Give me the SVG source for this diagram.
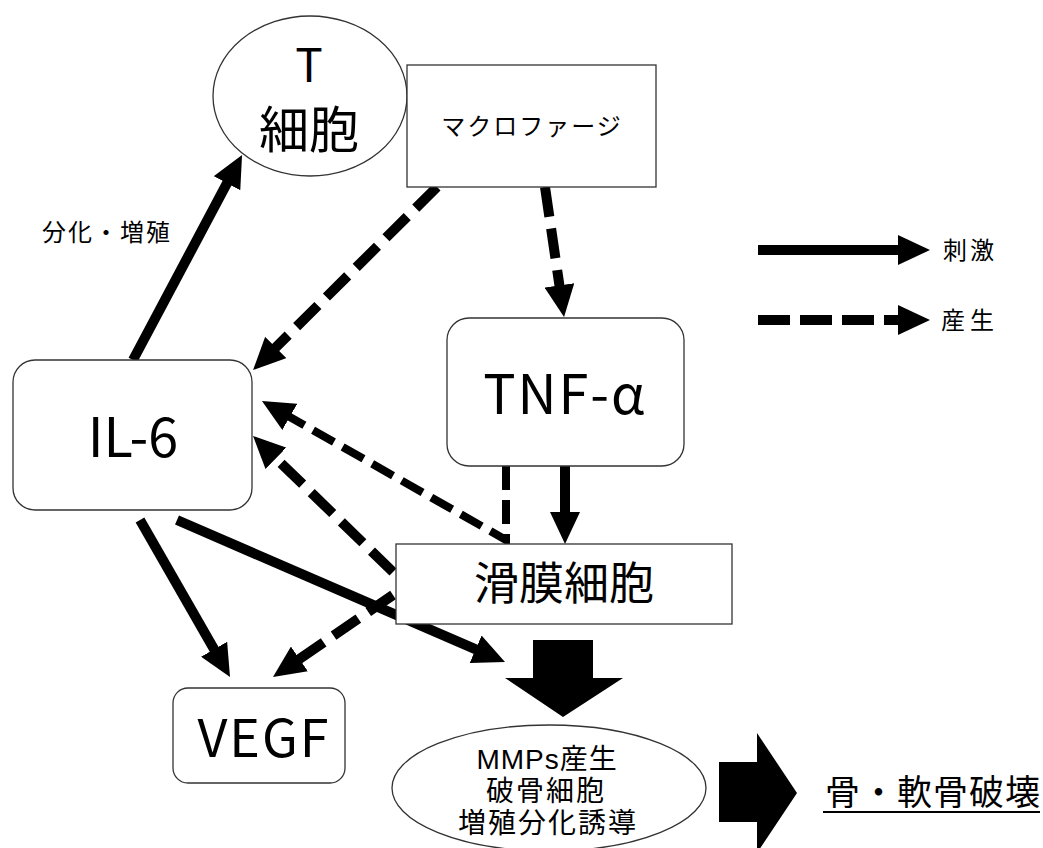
<svg xmlns="http://www.w3.org/2000/svg" width="1043" height="848" viewBox="0 0 1043 848">
  <defs>
    <style>
      .node { fill: #ffffff; stroke: #333333; stroke-width: 1.3; }
      .lbl { font-family: "Noto Sans CJK JP", "Liberation Sans", sans-serif; fill: #000000; text-anchor: middle; }
      .tight { font-family: "Liberation Sans", "Noto Sans CJK JP", sans-serif; }
      .start { text-anchor: start; }
      .solid { stroke: #000000; stroke-width: 10; fill: none; marker-end: url(#head); }
      .dash { stroke: #000000; stroke-width: 10; fill: none; stroke-dasharray: 30 12; marker-end: url(#head); }
      .dash-thin { stroke: #000000; stroke-width: 8; fill: none; stroke-dasharray: 24 10; marker-end: url(#head); }
      .block { fill: #000000; }
    </style>
    <marker id="head" viewBox="0 0 32 30" refX="4" refY="15" markerWidth="32" markerHeight="30" markerUnits="userSpaceOnUse" orient="auto">
      <path d="M0,0 L32,15 L0,30 Z" fill="#000000"/>
    </marker>
  </defs>

  <rect width="1043" height="848" fill="#ffffff"/>

  <!-- connectors -->
  <g id="connectors">
    <line class="solid" x1="133" y1="360" x2="228.9" y2="179.7"/>
    <line class="dash" x1="437" y1="187" x2="272.9" y2="350.3"/>
    <line class="dash" x1="545" y1="187" x2="560" y2="289.3"/>
    <polyline class="dash-thin" points="506,466 506,540 286.3,414.9"/>
    <line class="dash" x1="393" y1="572" x2="273.1" y2="455.5"/>
    <line class="solid" x1="565" y1="466" x2="565" y2="516"/>
    <line class="solid" x1="140" y1="520" x2="216.1" y2="652.7"/>
    <line class="solid" x1="177" y1="520" x2="479.3" y2="650.9"/>
    <line class="dash" x1="393" y1="595" x2="296.1" y2="661.2"/>
    <!-- block arrows -->
    <polygon class="block" points="533,640 593,640 593,678 623,678 563,717 505,678 533,678"/>
    <polygon class="block" points="719,762 757,762 757,733 797,793 757,853 757,822 719,822"/>
  </g>

  <!-- legend -->
  <g id="legend">
    <line class="solid" x1="758" y1="250" x2="902" y2="250"/>
    <text class="lbl" x="970" y="259" font-size="24" letter-spacing="3">刺激</text>
    <line class="dash" x1="758" y1="320" x2="902" y2="320" style="stroke-dasharray:32 10"/>
    <text class="lbl" x="970" y="329" font-size="24" letter-spacing="5">産生</text>
  </g>

  <g id="tcell">
    <ellipse class="node" cx="310" cy="96" rx="97" ry="80"/>
    <text class="lbl" x="309" y="82" font-size="46">T</text>
    <text class="lbl" x="309" y="148" font-size="50">細胞</text>
  </g>

  <g id="macrophage">
    <rect class="node" x="407" y="65" width="249" height="122"/>
    <text class="lbl" x="532" y="135" font-size="24" letter-spacing="2">マクロファージ</text>
  </g>

  <g id="il6">
    <rect class="node" x="13" y="360" width="239" height="150" rx="22" ry="22"/>
    <text class="lbl" x="133" y="457" font-size="54">IL-6</text>
  </g>

  <g id="tnf">
    <rect class="node" x="447" y="318" width="237" height="148" rx="22" ry="22"/>
    <text class="lbl" x="565" y="414" font-size="54" letter-spacing="2">TNF-α</text>
  </g>

  <g id="synovial">
    <rect class="node" x="396" y="544" width="336" height="80"/>
    <text class="lbl" x="564" y="600" font-size="45">滑膜細胞</text>
  </g>

  <g id="vegf">
    <rect class="node" x="173" y="688" width="172" height="95" rx="15" ry="15"/>
    <text class="lbl" x="264" y="757" font-size="52" letter-spacing="2">VEGF</text>
  </g>

  <g id="mmps">
    <ellipse class="node" cx="549" cy="788" rx="157" ry="63"/>
    <text class="lbl tight" font-size="28">
      <tspan x="551" y="769" letter-spacing="1">MMPs産生</tspan>
      <tspan x="550" y="801" letter-spacing="2">破骨細胞</tspan>
      <tspan x="548" y="833" letter-spacing="2">増殖分化誘導</tspan>
    </text>
  </g>

  <g id="destruction">
    <text class="lbl start" x="825" y="805" font-size="35" letter-spacing="1">骨・軟骨破壊</text>
    <line x1="823" y1="812" x2="1040" y2="812" stroke="#000000" stroke-width="2.2"/>
  </g>

  <g id="label-diff">
    <text class="lbl start" x="42" y="241" font-size="24" letter-spacing="2">分化・増殖</text>
  </g>
</svg>
